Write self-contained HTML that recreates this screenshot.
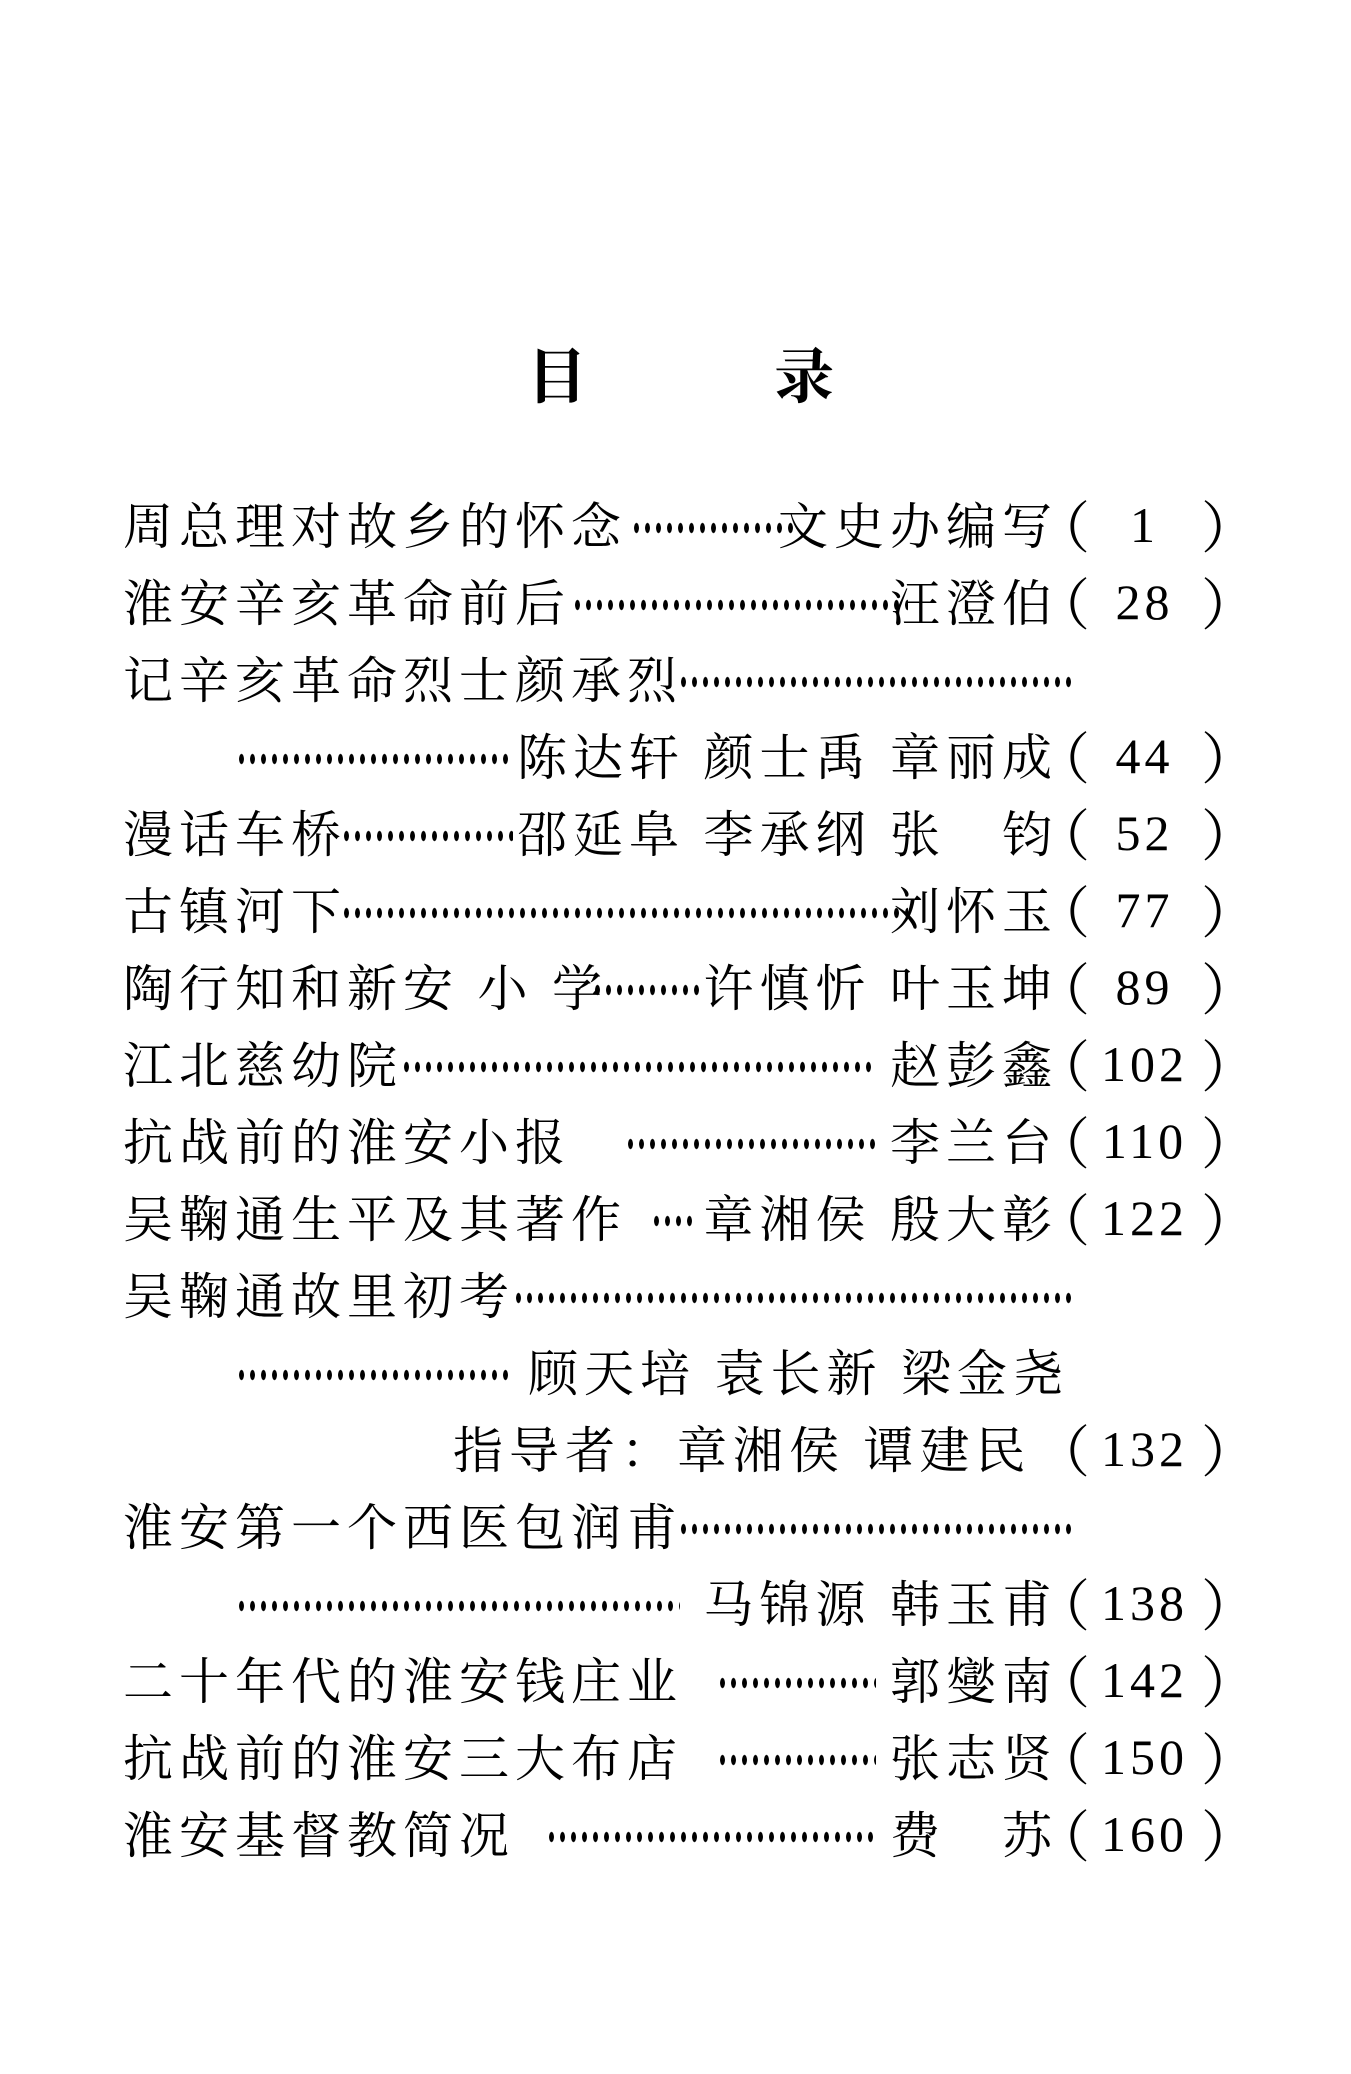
<!DOCTYPE html>
<html><head><meta charset="utf-8"><style>
html,body{margin:0;padding:0;background:#fff;}
body{width:1351px;height:2074px;position:relative;overflow:hidden;font-family:"Liberation Serif","Noto Serif CJK SC",serif;color:#000;}
.t{position:absolute;font-size:50px;line-height:60px;height:60px;white-space:nowrap;letter-spacing:6px;}
.r{letter-spacing:6px;}
.d{position:absolute;height:12px;background-image:radial-gradient(ellipse 2.6px 5.5px at 50% 50%,#000 85%,transparent 100%);background-size:11px 12px;background-repeat:repeat-x;}
.p{position:absolute;left:1052px;width:185px;height:60px;font-size:50px;line-height:60px;}
.p .a,.p .b{position:absolute;top:-2px;font-family:"Noto Serif CJK SC",serif;font-size:56px;}
.p .a{left:-18px}
.p .b{right:-20px}
.p .n{position:absolute;left:28px;right:28px;text-align:center;top:-2px;font-family:"Liberation Serif",serif;font-size:50px;letter-spacing:4px}
</style></head><body>
<div style="position:absolute;left:527px;top:340px;font-size:60px;line-height:76px;font-weight:bold">目</div>
<div style="position:absolute;left:774px;top:340px;font-size:60px;line-height:76px;font-weight:bold">录</div>

<div class="t" style="left:123px;top:497px">周总理对故乡的怀念</div>
<div class="d" style="left:631px;width:165px;top:522px"></div>
<div class="t r" style="right:293px;top:497px">文史办编写</div>
<div class="p" style="top:497px"><span class="a">（</span><span class="n">1</span><span class="b">）</span></div>

<div class="t" style="left:123px;top:574px">淮安辛亥革命前后</div>
<div class="d" style="left:572px;width:336px;top:599px"></div>
<div class="t r" style="right:293px;top:574px">汪澄伯</div>
<div class="p" style="top:574px"><span class="a">（</span><span class="n">28</span><span class="b">）</span></div>

<div class="t" style="left:123px;top:651px">记辛亥革命烈士颜承烈</div>
<div class="d" style="left:678px;width:393px;top:676px"></div>

<div class="d" style="left:236px;width:277px;top:753px"></div>
<div class="t r" style="right:293px;top:728px">陈达轩 颜士禹 章丽成</div>
<div class="p" style="top:728px"><span class="a">（</span><span class="n">44</span><span class="b">）</span></div>

<div class="t" style="left:123px;top:805px">漫话车桥</div>
<div class="d" style="left:341px;width:172px;top:830px"></div>
<div class="t r" style="right:293px;top:805px">邵延阜 李承纲 张　钧</div>
<div class="p" style="top:805px"><span class="a">（</span><span class="n">52</span><span class="b">）</span></div>

<div class="t" style="left:123px;top:882px">古镇河下</div>
<div class="d" style="left:341px;width:567px;top:907px"></div>
<div class="t r" style="right:293px;top:882px">刘怀玉</div>
<div class="p" style="top:882px"><span class="a">（</span><span class="n">77</span><span class="b">）</span></div>

<div class="t" style="left:123px;top:959px">陶行知和新安 小 学</div>
<div class="d" style="left:592px;width:112px;top:984px"></div>
<div class="t r" style="right:293px;top:959px">许慎忻 叶玉坤</div>
<div class="p" style="top:959px"><span class="a">（</span><span class="n">89</span><span class="b">）</span></div>

<div class="t" style="left:123px;top:1036px">江北慈幼院</div>
<div class="d" style="left:401px;width:475px;top:1061px"></div>
<div class="t r" style="right:293px;top:1036px">赵彭鑫</div>
<div class="p" style="top:1036px"><span class="a">（</span><span class="n">102</span><span class="b">）</span></div>

<div class="t" style="left:123px;top:1113px">抗战前的淮安小报</div>
<div class="d" style="left:625px;width:251px;top:1138px"></div>
<div class="t r" style="right:293px;top:1113px">李兰台</div>
<div class="p" style="top:1113px"><span class="a">（</span><span class="n">110</span><span class="b">）</span></div>

<div class="t" style="left:123px;top:1190px">吴鞠通生平及其著作</div>
<div class="d" style="left:651px;width:46px;top:1215px"></div>
<div class="t r" style="right:293px;top:1190px">章湘侯 殷大彰</div>
<div class="p" style="top:1190px"><span class="a">（</span><span class="n">122</span><span class="b">）</span></div>

<div class="t" style="left:123px;top:1267px">吴鞠通故里初考</div>
<div class="d" style="left:513px;width:558px;top:1292px"></div>

<div class="d" style="left:236px;width:277px;top:1369px"></div>
<div class="t r" style="right:282px;top:1344px">顾天培 袁长新 梁金尧</div>

<div class="t r" style="left:453px;top:1421px">指导者：章湘侯 谭建民</div>
<div class="p" style="top:1421px"><span class="a">（</span><span class="n">132</span><span class="b">）</span></div>

<div class="t" style="left:123px;top:1498px">淮安第一个西医包润甫</div>
<div class="d" style="left:678px;width:393px;top:1523px"></div>

<div class="d" style="left:236px;width:444px;top:1600px"></div>
<div class="t r" style="right:293px;top:1575px">马锦源 韩玉甫</div>
<div class="p" style="top:1575px"><span class="a">（</span><span class="n">138</span><span class="b">）</span></div>

<div class="t" style="left:123px;top:1652px">二十年代的淮安钱庄业</div>
<div class="d" style="left:717px;width:159px;top:1677px"></div>
<div class="t r" style="right:293px;top:1652px">郭燮南</div>
<div class="p" style="top:1652px"><span class="a">（</span><span class="n">142</span><span class="b">）</span></div>

<div class="t" style="left:123px;top:1729px">抗战前的淮安三大布店</div>
<div class="d" style="left:717px;width:159px;top:1754px"></div>
<div class="t r" style="right:293px;top:1729px">张志贤</div>
<div class="p" style="top:1729px"><span class="a">（</span><span class="n">150</span><span class="b">）</span></div>

<div class="t" style="left:123px;top:1806px">淮安基督教简况</div>
<div class="d" style="left:546px;width:330px;top:1831px"></div>
<div class="t r" style="right:293px;top:1806px">费　苏</div>
<div class="p" style="top:1806px"><span class="a">（</span><span class="n">160</span><span class="b">）</span></div>
</body></html>
